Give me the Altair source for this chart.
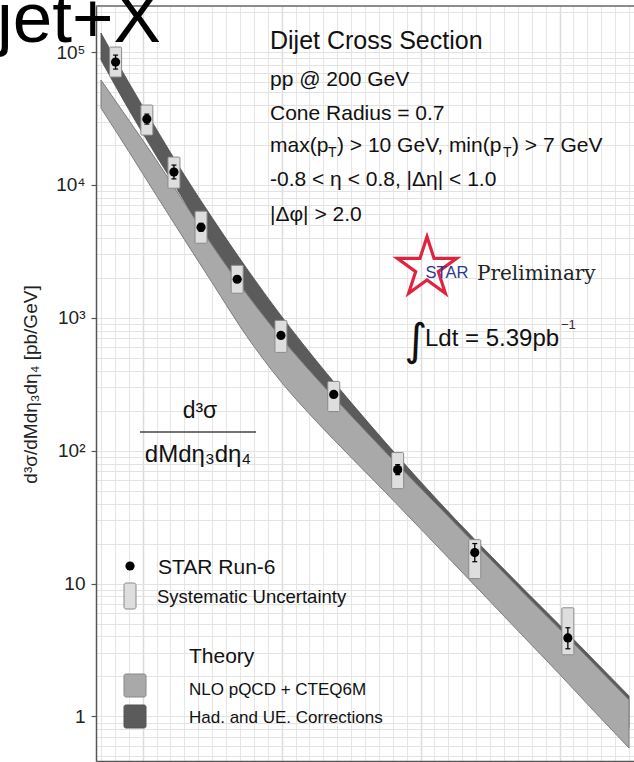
import altair as alt
import pandas as pd

# STAR Run-6 dijet cross section vs. dijet invariant mass M [GeV]
mass = [16.1, 20.6, 24.5, 28.4, 33.6, 39.9, 47.5, 56.7, 67.8, 81.2]
xsec = [84000, 31300, 12500, 4800, 1950, 737, 265, 72, 17.1, 3.9]
stat_lo = [74400, 28700, 11100, 4480, 1850, 700, 252, 66, 14.6, 3.23]
stat_hi = [94800, 34100, 14100, 5140, 2050, 775, 279, 78.5, 20.0, 4.65]
sys_lo = [64900, 23700, 9440, 3640, 1530, 549, 197, 51.8, 10.9, 2.91]
sys_hi = [109000, 39900, 16200, 6340, 2480, 956, 332, 96.8, 21.4, 6.57]

# Theory: NLO pQCD + CTEQ6M band, and the same with hadronization/UE corrections
theory_mass = [14, 18, 22, 26, 30, 35, 40, 45, 50, 55, 60, 65, 70, 75, 80, 85, 90]
nlo_lo = [37840, 17850, 8290, 3885, 1836, 723, 326, 166, 89.0, 48.2, 25.8,
          13.76, 7.33, 3.90, 2.08, 1.091, 0.579]
nlo_hi = [61500, 30730, 15270, 7317, 3512, 1504, 699, 350.5, 182.9, 96.9, 52.2,
          28.2, 15.3, 8.29, 4.55, 2.46, 1.331]
corr_lo = [87000, 36860, 16450, 7540, 3220, 1284, 549, 255.6, 123.4, 63.8, 33.0,
           17.4, 9.30, 5.07, 2.76, 1.50, 0.819]
corr_hi = [139000, 58900, 26150, 11870, 5657, 2344, 1024, 475, 230.4, 114.5, 58.4,
           30.5, 16.4, 8.89, 4.88, 2.64, 1.427]

# Axis ticks / grid
x_grid = list(range(14, 91, 2))
y_grid = [0.5, 0.6, 0.7, 0.8, 0.9] + [m * 10 ** k for k in range(0, 6) for m in range(1, 10)
                                       if m * 10 ** k <= 200000]
y_tick_values = [100000, 10000, 1000, 100, 10, 1]
y_tick_labels = ["10⁵", "10⁴", "10³", "10²", "10", "1"]

data_df = pd.DataFrame({"M": mass, "xsec": xsec, "stat_lo": stat_lo, "stat_hi": stat_hi,
                        "sys_lo": sys_lo, "sys_hi": sys_hi})
theory_df = pd.DataFrame({"M": theory_mass, "nlo_lo": nlo_lo, "nlo_hi": nlo_hi,
                          "corr_lo": corr_lo, "corr_hi": corr_hi})

PLOT_W, PLOT_H = 538, 755
PAD_L, PAD_T = 96, 6
FONT = "Liberation Sans"

label_expr = " : ".join(f"datum.value == {v} ? '{t}'" for v, t in zip(y_tick_values, y_tick_labels)) + " : ''"
decade_test = "abs(log(datum.value) / LN10 - round(log(datum.value) / LN10)) < 1e-6"

x_scale = alt.Scale(domain=[14, 90], nice=False, zero=False)
y_scale = alt.Scale(type="log", domain=[0.462, 222000], nice=False)

x_axis = alt.Axis(values=x_grid, grid=True,
                  gridColor=alt.condition("datum.value % 20 == 0", alt.value("#dcdcdc"), alt.value("#e6e6e6")),
                  gridWidth=alt.condition("datum.value % 20 == 0", alt.value(1.5), alt.value(1.1)),
                  labels=False, ticks=False, domain=True, domainColor="#555555", domainWidth=1.5,
                  title=None)
y_axis = alt.Axis(values=y_grid, grid=True, gridColor="#e3e3e3", gridWidth=1.1,
                  domain=True, domainColor="#555555", domainWidth=1.5,
                  ticks=True, tickSize=5, tickWidth=1.2,
                  tickColor=alt.condition(decade_test, alt.value("#555555"), alt.value("transparent")),
                  labelExpr=label_expr, labelFont=FONT, labelFontSize=19, labelColor="#222222",
                  labelPadding=6, labelOverlap=False, labelFlush=False,
                  title="d³σ/dMdη₃dη₄ [pb/GeV]", titleFont=FONT, titleFontSize=19,
                  titleFontWeight="normal", titleColor="#222222",
                  titleX=-66, titleY=378, titleAlign="center", titleBaseline="middle")


def X():
    return alt.X("M:Q", scale=x_scale, axis=x_axis)


def Y(field):
    return alt.Y(f"{field}:Q", scale=y_scale, axis=y_axis)


corr_band = alt.Chart(theory_df).mark_area(
    color="#5b5b5b", stroke="#4c4c4c", strokeWidth=0.8, interpolate="monotone", clip=True
).encode(x=X(), y=Y("corr_lo"), y2="corr_hi:Q")

nlo_band = alt.Chart(theory_df).mark_area(
    color="#a9a9a9", stroke="#7e7e7e", strokeWidth=1, interpolate="monotone", clip=True
).encode(x=X(), y=Y("nlo_lo"), y2="nlo_hi:Q")

sys_boxes = alt.Chart(data_df).mark_bar(
    size=12, fill="#dedede", stroke="#8a8a8a", strokeWidth=1, cornerRadius=1
).encode(x=X(), y=Y("sys_lo"), y2="sys_hi:Q")

stat_bars = alt.Chart(data_df).mark_rule(color="black", strokeWidth=1.3).encode(
    x=X(), y=Y("stat_lo"), y2="stat_hi:Q")

cap_shape = "M-1,0L1,0"
caps_lo = alt.Chart(data_df).mark_point(shape=cap_shape, size=25, filled=False, stroke="black",
                                        strokeWidth=1.2, opacity=1).encode(x=X(), y=Y("stat_lo"))
caps_hi = alt.Chart(data_df).mark_point(shape=cap_shape, size=25, filled=False, stroke="black",
                                        strokeWidth=1.2, opacity=1).encode(x=X(), y=Y("stat_hi"))

points = alt.Chart(data_df).mark_circle(size=85, color="black", opacity=1).encode(x=X(), y=Y("xsec"))

ONE = alt.Data(values=[{}])


def text(t, x, y, size, font=FONT, color="#111111", align="left", baseline="alphabetic"):
    return alt.Chart(ONE).mark_text(text=t, font=font, fontSize=size, color=color,
                                    align=align, baseline=baseline).encode(
        x=alt.value(x - PAD_L), y=alt.value(y - PAD_T))


def rect(x1, y1, x2, y2, fill, stroke):
    return alt.Chart(ONE).mark_rect(fill=fill, stroke=stroke, strokeWidth=1, cornerRadius=2).encode(
        x=alt.value(x1 - PAD_L), x2=alt.value(x2 - PAD_L),
        y=alt.value(y1 - PAD_T), y2=alt.value(y2 - PAD_T))


top_frame = alt.Chart(ONE).mark_rule(color="#666666", strokeWidth=1.3).encode(
    x=alt.value(0), x2=alt.value(PLOT_W), y=alt.value(0))

# Run conditions
info = [
    text("Dijet Cross Section", 270, 49, 25),
    text("pp @ 200 GeV", 270, 86, 21),
    text("Cone Radius = 0.7", 270, 120, 21),
    text("max(p", 270, 152, 21),
    text("T", 328, 157, 14),
    text(") > 10 GeV, min(p", 337, 152, 21),
    text("T", 503, 157, 14),
    text(") > 7 GeV", 512, 152, 21),
    text("-0.8 < η < 0.8, |Δη| < 1.0", 270, 186, 21),
    text("|Δφ| > 2.0", 270, 221, 21),
]

star_path = ("M0,-1L0.2245,-0.309L0.951,-0.309L0.363,0.118L0.588,0.809L0,0.382"
             "L-0.588,0.809L-0.363,0.118L-0.951,-0.309L-0.2245,-0.309Z")
star = alt.Chart(ONE).mark_point(shape=star_path, size=3900, filled=False, stroke="#e0233f",
                                 strokeWidth=3.2, strokeJoin="miter", opacity=1).encode(
    x=alt.value(427 - PAD_L), y=alt.value(268 - PAD_T))

prelim = [
    star,
    text("STAR", 447, 278, 16.5, color="#2b3990", align="center"),
    text("Preliminary", 477, 280, 20, font="DejaVu Serif", color="#222222"),
    text("∫", 416, 355, 44, font="DejaVu Sans", color="#111111", align="center"),
    text("Ldt = 5.39pb", 425, 346, 24),
    text("−1", 561, 329, 13, color="#3a1f4a"),
]

fraction = [
    text("d³σ", 200, 418, 23, align="center"),
    alt.Chart(ONE).mark_rule(color="#444444", strokeWidth=1.6).encode(
        x=alt.value(140 - PAD_L), x2=alt.value(256 - PAD_L), y=alt.value(432 - PAD_T)),
    text("dMdη₃dη₄", 198, 462, 24, align="center"),
]

legend = [
    alt.Chart(ONE).mark_circle(size=85, color="black", opacity=1).encode(
        x=alt.value(130 - PAD_L), y=alt.value(566 - PAD_T)),
    text("STAR Run-6", 158, 574, 21),
    rect(124, 583, 136, 609, "#dedede", "#8a8a8a"),
    text("Systematic Uncertainty", 157, 603, 18.5),
    text("Theory", 189, 663, 21),
    rect(124, 674, 146, 697, "#a9a9a9", "#888888"),
    text("NLO pQCD + CTEQ6M", 189, 695, 17),
    rect(124, 705, 146, 728, "#5b5b5b", "#555555"),
    text("Had. and UE. Corrections", 189, 723, 17),
]

process = text("jet+X", -3, 42, 71, color="#000000")

chart = alt.layer(
    corr_band, nlo_band, sys_boxes, stat_bars, caps_lo, caps_hi, points, top_frame,
    *info, *prelim, *fraction, *legend, process
).properties(
    width=PLOT_W, height=PLOT_H,
    padding={"left": PAD_L, "top": PAD_T, "right": 0, "bottom": 1},
    autosize=alt.AutoSizeParams(type="none"),
    background="white",
).configure_view(stroke=None)

chart.save("out.html", embed_options={"renderer": "svg", "actions": False})
